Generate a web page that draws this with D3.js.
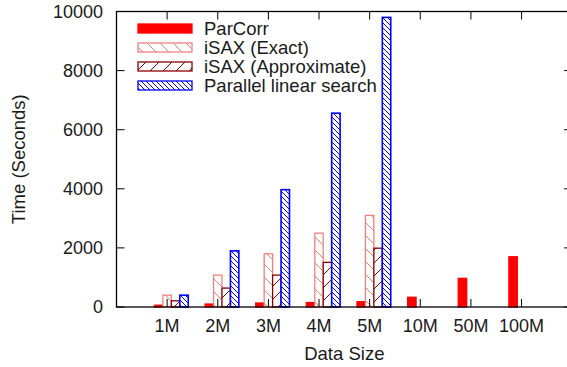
<!DOCTYPE html>
<html>
<head>
<meta charset="utf-8">
<script src="https://cdn.jsdelivr.net/npm/d3@7"></script>
<style>
  body { margin: 0; background: #fff; }
  text { font-family: "Liberation Sans", Arial, sans-serif; fill: #1a1a1a; }
</style>
</head>
<body>
<div id="container"></div>
<script>
// dados
const categorias = ["1M", "2M", "3M", "4M", "5M", "10M", "50M", "100M"]
const parCorr = [60, 100, 135, 150, 180, 330, 970, 1700]
const isaxExact = [400, 1080, 1800, 2500, 3100, null, null, null]
const isaxApprox = [210, 640, 1080, 1510, 1990, null, null, null]
const parallelLinear = [400, 1900, 3970, 6560, 9800, null, null, null]
const yTicks = [0, 2000, 4000, 6000, 8000, 10000]

const series = [
  { nome: "ParCorr", valores: parCorr, cor: "#ff0000", fill: "#ff0000" },
  { nome: "iSAX (Exact)", valores: isaxExact, cor: "#f08080", fill: "url(#padPink)" },
  { nome: "iSAX (Approximate)", valores: isaxApprox, cor: "#8b0000", fill: "url(#padDark)" },
  { nome: "Parallel linear search", valores: parallelLinear, cor: "#0000ff", fill: "url(#padBlue)" }
]

const width = 567, height = 367
const plotL = 116.5, plotT = 11.5, plotB = 307

const x = d3.scaleLinear([0, 9], [plotL, plotL + 9 * 50.63])
const y = d3.scaleLinear([0, 10000], [plotB, plotT])
const bw = x(1 / 6) - x(0)

const svg = d3.select("#container").append("svg")
  .attr("width", width).attr("height", height)

svg.append("rect").attr("width", width).attr("height", height).attr("fill", "#fff")

// padrões de tracejado (estilo gnuplot)
const defs = svg.append("defs")
const padrao = (id, cor, tam, sentido) => {
  const p = defs.append("pattern")
    .attr("id", id)
    .attr("patternUnits", "userSpaceOnUse")
    .attr("width", tam).attr("height", tam)
  p.append("rect").attr("width", tam).attr("height", tam).attr("fill", "#fff")
  const t = tam
  const d = sentido === "\\"
    ? `M${-1},${t - 1} l2,2 M0,0 l${t},${t} M${t - 1},-1 l2,2`
    : `M-1,1 l2,-2 M0,${t} l${t},${-t} M${t - 1},${t + 1} l2,-2`
  p.append("path").attr("d", d).attr("stroke", cor).attr("stroke-width", 1).attr("fill", "none")
}
padrao("padPink", "#f08080", 13, "\\")
padrao("padDark", "#8b0000", 13, "/")
padrao("padBlue", "#0000ff", 5, "\\")

// barras
const g = svg.append("g")
series.forEach((s, j) => {
  g.append("g").selectAll("rect")
    .data(s.valores.map((v, i) => ({ v, i })).filter(d => d.v != null))
    .join("rect")
      .attr("x", d => x(d.i + 1) + (j - 1) * bw - bw / 2)
      .attr("y", d => y(d.v))
      .attr("width", bw)
      .attr("height", d => y(0) - y(d.v))
      .attr("fill", s.fill)
      .attr("stroke", s.cor)
      .attr("stroke-width", j === 3 ? 1.6 : 1.3)
})

// moldura e ticks
const plotR = x(9)
svg.append("rect")
  .attr("x", plotL).attr("y", plotT)
  .attr("width", plotR - plotL).attr("height", plotB - plotT)
  .attr("fill", "none").attr("stroke", "#000").attr("stroke-width", 1.3)

const ticks = svg.append("g").attr("stroke", "#000").attr("stroke-width", 1)
yTicks.forEach(t => {
  ticks.append("line").attr("x1", plotL).attr("x2", plotL + 8).attr("y1", y(t)).attr("y2", y(t))
  ticks.append("line").attr("x1", plotR).attr("x2", plotR - 8).attr("y1", y(t)).attr("y2", y(t))
})
categorias.forEach((c, i) => {
  ticks.append("line").attr("x1", x(i + 1)).attr("x2", x(i + 1)).attr("y1", plotB).attr("y2", plotB - 8)
  ticks.append("line").attr("x1", x(i + 1)).attr("x2", x(i + 1)).attr("y1", plotT).attr("y2", plotT + 8)
})

svg.append("g").selectAll("text")
  .data(yTicks)
  .join("text")
    .attr("x", 103)
    .attr("y", d => y(d))
    .attr("dy", "0.35em")
    .attr("text-anchor", "end")
    .style("font-size", "18px")
    .text(d => d)

svg.append("g").selectAll("text")
  .data(categorias)
  .join("text")
    .attr("x", (d, i) => x(i + 1))
    .attr("y", 331.5)
    .attr("text-anchor", "middle")
    .style("font-size", "18px")
    .text(d => d)

svg.append("text")
  .attr("x", (plotL + plotR) / 2)
  .attr("y", 360)
  .attr("text-anchor", "middle")
  .style("font-size", "18.5px")
  .text("Data Size")

svg.append("text")
  .attr("transform", `translate(25, ${(plotT + plotB) / 2}) rotate(-90)`)
  .attr("text-anchor", "middle")
  .style("font-size", "18.5px")
  .text("Time (Seconds)")

// legenda
const legenda = svg.append("g")
series.forEach((s, j) => {
  const cy = 28.5 + j * 19
  legenda.append("rect")
    .attr("x", 138).attr("y", cy - 4.5)
    .attr("width", 54).attr("height", 9)
    .attr("fill", s.fill).attr("stroke", s.cor).attr("stroke-width", 1.3)
  legenda.append("text")
    .attr("x", 204).attr("y", cy + 6)
    .style("font-size", "18.5px")
    .text(s.nome)
})
</script>
</body>
</html>
